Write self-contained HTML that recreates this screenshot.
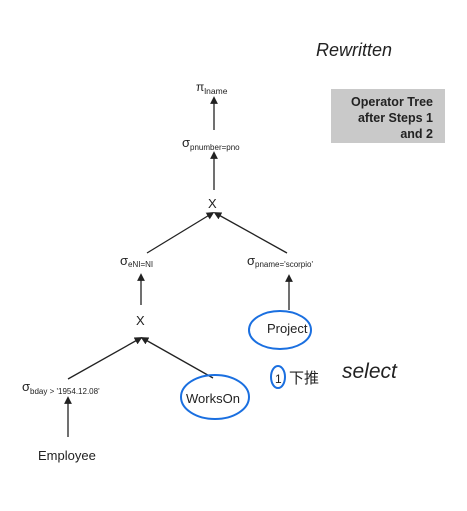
<!DOCTYPE html>
<html><head><meta charset="utf-8"><style>
body{margin:0;background:#fff;width:467px;height:511px;overflow:hidden}
svg{display:block}
text{font-family:"Liberation Sans",sans-serif;fill:#222}
</style></head><body>
<svg width="467" height="511" viewBox="0 0 467 511">
<defs><marker id="a" markerWidth="6" markerHeight="6" refX="3" refY="3" orient="auto"><path d="M0,0 L6,3 L0,6 z" fill="#222"/></marker></defs>
<rect x="331" y="89" width="114" height="54" fill="#c9c9c9"/>
<text x="433" y="106" font-size="12.5" text-anchor="end" font-weight="bold" fill="#333">Operator Tree</text>
<text x="433" y="122" font-size="12.5" text-anchor="end" font-weight="bold" fill="#333">after Steps 1</text>
<text x="433" y="138" font-size="12.5" text-anchor="end" font-weight="bold" fill="#333">and 2</text>
<text x="316" y="56" font-size="18" font-style="italic" fill="#1a6fe0" font-family="Liberation Serif">Rewritten</text>
<g stroke="#222" stroke-width="1.3" fill="none">
<line x1="214" y1="130" x2="214" y2="100" marker-end="url(#a)"/>
<line x1="214" y1="190" x2="214" y2="155" marker-end="url(#a)"/>
<line x1="147" y1="253" x2="211" y2="214" marker-end="url(#a)"/>
<line x1="287" y1="253" x2="217" y2="214" marker-end="url(#a)"/>
<line x1="141" y1="305" x2="141" y2="277" marker-end="url(#a)"/>
<line x1="289" y1="310" x2="289" y2="278" marker-end="url(#a)"/>
<line x1="68" y1="379" x2="139" y2="339" marker-end="url(#a)"/>
<line x1="213" y1="378" x2="144" y2="339" marker-end="url(#a)"/>
<line x1="68" y1="437" x2="68" y2="400" marker-end="url(#a)"/>
</g>
<text x="196" y="91" font-size="12">π<tspan font-size="8.5" dy="3">lname</tspan></text>
<text x="182" y="147" font-size="13">σ<tspan font-size="8" dy="3">pnumber=pno</tspan></text>
<text x="208" y="208" font-size="13">X</text>
<text x="120" y="265" font-size="13">σ<tspan font-size="8" dy="2">eNI=NI</tspan></text>
<text x="247" y="265" font-size="13">σ<tspan font-size="8" dy="2">pname='scorpio'</tspan></text>
<text x="136" y="325" font-size="13">X</text>
<text x="267" y="333" font-size="13">Project</text>
<text x="22" y="391" font-size="13">σ<tspan font-size="8" dy="3">bday &gt; '1954.12.08'</tspan></text>
<text x="186" y="403" font-size="13">WorksOn</text>
<text x="38" y="460" font-size="13">Employee</text>
<g stroke="#1a6fe0" stroke-width="2" fill="none">
<ellipse cx="280" cy="330" rx="31" ry="19"/>
<ellipse cx="215" cy="397" rx="34" ry="22"/>
<ellipse cx="278" cy="377" rx="7" ry="11"/>
</g>
<text x="275" y="383" font-size="12" fill="#1a6fe0">1</text>
<text x="289" y="383" font-size="15" fill="#1a6fe0" font-family="Liberation Sans, Noto Sans CJK SC, sans-serif">下推</text>
<text x="342" y="378" font-size="21" font-style="italic" fill="#1a6fe0" font-family="Liberation Serif">select</text>
</svg>
</body></html>
